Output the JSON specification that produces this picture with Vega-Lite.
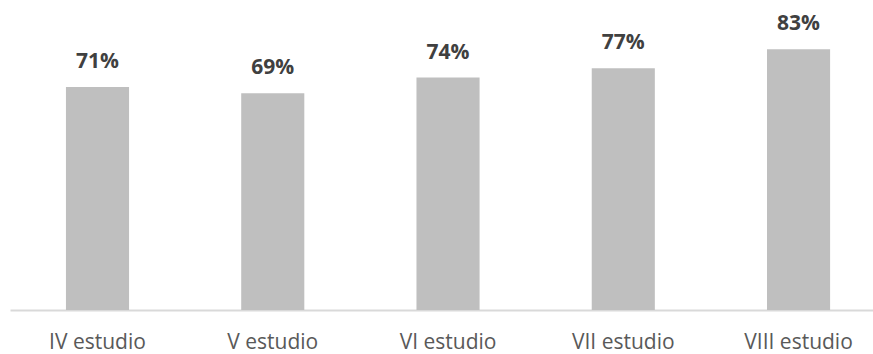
{
  "$schema": "https://vega.github.io/schema/vega-lite/v6.json",
  "autosize": "none",
  "width": 863,
  "height": 310,
  "padding": {"left": 10, "top": 0, "right": 0, "bottom": 44},
  "background": "white",
  "config": {"view": {"stroke": null}},
  "data": {"values": [
    {"estudio": "IV estudio", "pct": 0.71},
    {"estudio": "V estudio", "pct": 0.69},
    {"estudio": "VI estudio", "pct": 0.74},
    {"estudio": "VII estudio", "pct": 0.77},
    {"estudio": "VIII estudio", "pct": 0.83}
  ]},
  "encoding": {
    "x": {
      "field": "estudio", "type": "nominal", "sort": null,
      "scale": {"paddingInner": 0.64, "paddingOuter": 0.282, "align": 0.566},
      "axis": {
        "title": null, "labelAngle": 0, "ticks": false,
        "domainColor": "#D9D9D9", "domainWidth": 2,
        "labelFont": "Open Sans", "labelFontSize": 21, "labelColor": "#595959",
        "labelBaseline": "alphabetic", "labelPadding": 38
      }
    },
    "y": {
      "field": "pct", "type": "quantitative",
      "scale": {"domain": [0, 0.987], "nice": false, "zero": true},
      "axis": null
    }
  },
  "layer": [
    {"mark": {"type": "bar", "color": "#BFBFBF"}},
    {
      "mark": {"type": "text", "font": "Open Sans", "fontWeight": "bold", "fontSize": 21, "color": "#404040", "baseline": "alphabetic", "dy": -19},
      "encoding": {"text": {"field": "pct", "type": "quantitative", "format": ".0%"}}
    }
  ]
}
